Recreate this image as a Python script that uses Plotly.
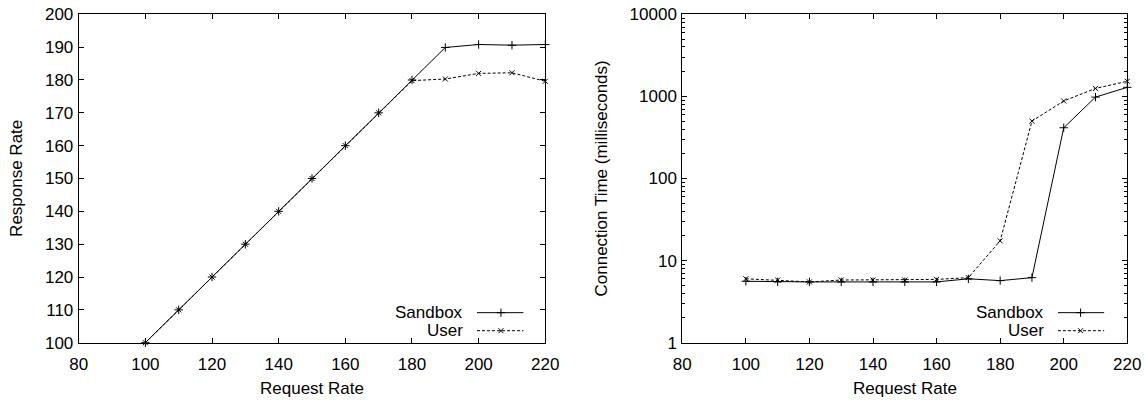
import plotly.graph_objects as go

request_rate = [100, 110, 120, 130, 140, 150, 160, 170, 180, 190, 200, 210, 220]

resp_sandbox = [100, 110, 120, 130, 140, 150, 160, 170, 180, 189.9, 190.8, 190.6, 190.8]
resp_user = [100, 110, 120, 130, 140, 150, 160, 170, 179.8, 180.3, 182.0, 182.2, 179.6]

conn_sandbox = [5.6, 5.5, 5.5, 5.5, 5.5, 5.5, 5.5, 6.0, 5.7, 6.2, 415, 980, 1290]
conn_user = [6.0, 5.8, 5.5, 5.8, 5.8, 5.8, 5.9, 6.2, 17.4, 500, 880, 1250, 1530]

series_names = ["Sandbox", "User"]

x_ticks = [80, 100, 120, 140, 160, 180, 200, 220]
y_ticks_left = [100, 110, 120, 130, 140, 150, 160, 170, 180, 190, 200]
y_ticks_right = [1, 10, 100, 1000, 10000]
y_ticks_right_text = ["1", "10", "100", "1000", "10000"]

FONT = "Liberation Sans, Arial, Helvetica, sans-serif"
FS = 17
W, H = 1144, 400


def px_x(v):
    return v / W


def px_y(v):
    return (H - v) / H


# window-pixel geometry -> paper fractions
L1, R1 = px_x(78.7), px_x(545.3)
L2, R2 = px_x(682.3), px_x(1127.3)
YB, YT = px_y(342.7), px_y(14.3)

styles = [
    dict(line=dict(color="black", width=1, dash="solid"),
         marker=dict(symbol="cross-thin", size=6, line=dict(color="black", width=1))),
    dict(line=dict(color="black", width=1, dash="3px,2px"),
         marker=dict(symbol="x-thin", size=5, line=dict(color="black", width=1))),
]

fig = go.Figure()

for name, vals, st in zip(series_names, [resp_sandbox, resp_user], styles):
    fig.add_trace(go.Scatter(x=request_rate, y=vals, mode="lines+markers", name=name,
                             line=st["line"], marker=st["marker"], showlegend=False,
                             xaxis="x", yaxis="y", cliponaxis=False))
for name, vals, st in zip(series_names, [conn_sandbox, conn_user], styles):
    fig.add_trace(go.Scatter(x=request_rate, y=vals, mode="lines+markers", name=name,
                             line=st["line"], marker=st["marker"], showlegend=False,
                             xaxis="x2", yaxis="y2", cliponaxis=False))

# legend samples on hidden overlay axes (gnuplot style: text left, sample right)
legend_y = [0.0914, 0.0365]  # fractions of plot height
legend_geo = [
    ("x3", "y3", dict(text=0.828, x0=0.8536, xm=0.905, x1=0.953)),
    ("x4", "y4", dict(text=0.817, x0=0.844, xm=0.895, x1=0.948)),
]
for xa, ya, g in legend_geo:
    for name, ly, st in zip(series_names, legend_y, styles):
        fig.add_trace(go.Scatter(x=[g["x0"], g["x1"]], y=[ly, ly], mode="lines", line=st["line"],
                                 showlegend=False, hoverinfo="skip", xaxis=xa, yaxis=ya))
        fig.add_trace(go.Scatter(x=[g["xm"]], y=[ly], mode="markers", marker=st["marker"],
                                 showlegend=False, hoverinfo="skip", xaxis=xa, yaxis=ya))
        fig.add_annotation(x=g["text"], y=ly, xref=xa, yref=ya, text=name, showarrow=False,
                           xanchor="right", yanchor="middle",
                           font=dict(family=FONT, size=FS, color="black"))

axis_common = dict(showline=True, linecolor="black", linewidth=1, mirror="allticks",
                   ticks="inside", ticklen=5, tickcolor="black", tickwidth=1,
                   showgrid=False, zeroline=False, automargin=False,
                   tickfont=dict(family=FONT, size=FS, color="black"))

fig.update_layout(
    width=W, height=H,
    margin=dict(l=0, r=0, t=0, b=0, autoexpand=False),
    paper_bgcolor="white", plot_bgcolor="white",
    font=dict(family=FONT, size=FS, color="black"),
    xaxis=dict(domain=[L1, R1], range=[80, 220], tickvals=x_ticks, anchor="y",
               ticklabelstandoff=6, **axis_common),
    yaxis=dict(domain=[YB, YT], range=[100, 200], tickvals=y_ticks_left, anchor="x",
               ticklabelstandoff=1, **axis_common),
    xaxis2=dict(domain=[L2, R2], range=[80, 220], tickvals=x_ticks, anchor="y2",
                ticklabelstandoff=6, **axis_common),
    yaxis2=dict(domain=[YB, YT], type="log", range=[0, 4], tickvals=y_ticks_right,
                ticktext=y_ticks_right_text, anchor="x2", ticklabelstandoff=1,
                minor=dict(ticks="inside", ticklen=3, tickcolor="black", dtick="D1"),
                **axis_common),
    xaxis3=dict(range=[0, 1], visible=False, overlaying="x", anchor="y3", automargin=False),
    yaxis3=dict(range=[0, 1], visible=False, overlaying="y", anchor="x3", automargin=False),
    xaxis4=dict(range=[0, 1], visible=False, overlaying="x2", anchor="y4", automargin=False),
    yaxis4=dict(range=[0, 1], visible=False, overlaying="y2", anchor="x4", automargin=False),
)

# axis titles
titles = [
    dict(text="Request Rate", x=(L1 + R1) / 2, y=px_y(388), textangle=0),
    dict(text="Request Rate", x=(L2 + R2) / 2, y=px_y(388), textangle=0),
    dict(text="Response Rate", x=px_x(16.4), y=(YB + YT) / 2, textangle=-90),
    dict(text="Connection Time (milliseconds)", x=px_x(601), y=(YB + YT) / 2, textangle=-90),
]
for t in titles:
    fig.add_annotation(x=t["x"], y=t["y"], xref="paper", yref="paper", text=t["text"],
                       textangle=t["textangle"], showarrow=False,
                       xanchor="center", yanchor="middle",
                       font=dict(family=FONT, size=FS, color="black"))

# remove the default 8px page margin so the figure fills the window exactly
fig.write_html("out.html", config={"displayModeBar": False},
               post_script="document.body.style.margin='0';document.body.style.overflow='hidden';")
